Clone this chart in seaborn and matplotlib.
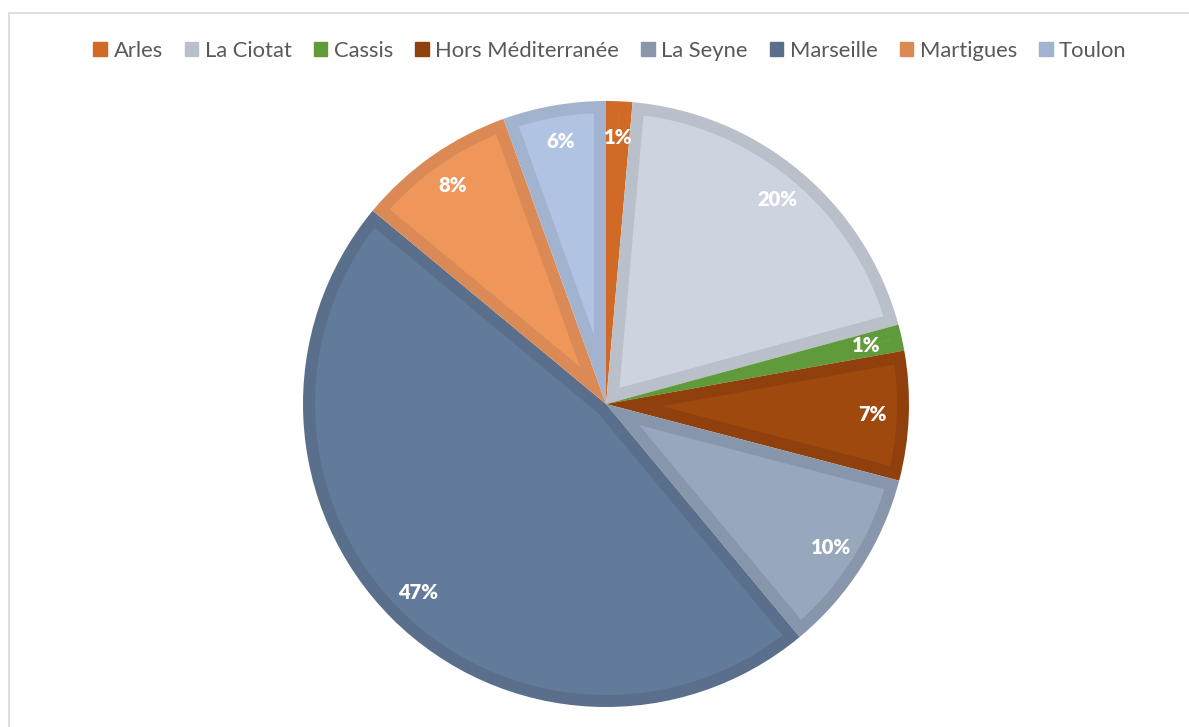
import matplotlib
matplotlib.use("Agg")
import numpy as np
import matplotlib.pyplot as plt
import matplotlib.patches as mpatches
import seaborn as sns

villes = ["Arles", "La Ciotat", "Cassis", "Hors Méditerranée", "La Seyne",
          "Marseille", "Martigues", "Toulon"]
parts = [1.4, 19.4, 1.4, 6.9, 9.9, 47.1, 8.5, 5.5]
etiquettes = ["1%", "20%", "1%", "7%", "10%", "47%", "8%", "6%"]

couleurs = ["#D8712C", "#CDD4DF", "#6AA442", "#A0490E", "#97A7BC",
            "#637B9A", "#EF975B", "#B1C3E3"]
bordures = ["#D06A26", "#B9C0C9", "#5F9A3B", "#8F400C", "#8796AB",
            "#5A6F8B", "#DC8A55", "#A2B3D0"]

sns.set_theme(style="white")
plt.rcParams["font.family"] = ["Lato", "DejaVu Sans"]

fig = plt.figure(figsize=(11.89, 7.27), dpi=100)
ax = fig.add_axes([303 / 1189, 20 / 727, 606 / 1189, 606 / 727])

# camembert de base dans la couleur de bordure
wedges, textes, pcts = ax.pie(parts, colors=bordures, startangle=90, counterclock=False,
                              autopct=lambda p: "", pctdistance=0.88, radius=1,
                              wedgeprops=dict(linewidth=0))

# remplissage intérieur, décalé vers l'intérieur (effet bordure Excel)
ep = 12 / 303
for w, c in zip(wedges, couleurs):
    t1, t2 = w.theta1, w.theta2
    a = np.radians(t2 - t1)
    r_int = 1 - ep
    r0 = ep / np.sin(a / 2)
    dlt = np.degrees(np.arcsin(ep / r_int))
    if r0 >= r_int or (t2 - t1) <= 2 * dlt:
        continue
    phi = np.radians((t1 + t2) / 2)
    arc = np.radians(np.linspace(t1 + dlt, t2 - dlt, 100))
    xs = np.concatenate([[r0 * np.cos(phi)], r_int * np.cos(arc)])
    ys = np.concatenate([[r0 * np.sin(phi)], r_int * np.sin(arc)])
    ax.add_patch(mpatches.Polygon(np.column_stack([xs, ys]), closed=True,
                                  facecolor=c, edgecolor="none", zorder=1.5))

for t, lab in zip(pcts, etiquettes):
    t.set_text(lab)
    t.set_color("white")
    t.set_fontweight("heavy")
    t.set_fontsize(14.5)
    t.set_zorder(3)

ax.set_xlim(-1, 1)
ax.set_ylim(-1, 1)
ax.set_aspect("equal")
ax.axis("off")

poignees = [mpatches.Patch(facecolor=b, edgecolor=b) for b in bordures]
fig.legend(poignees, villes, loc="center", bbox_to_anchor=(610 / 1189, 1 - 51 / 727),
           ncol=8, frameon=False, fontsize=15.8, handlelength=0.62, handleheight=0.62,
           handletextpad=0.3, columnspacing=1.0, labelcolor="#595959")

cadre = mpatches.Rectangle((8.5 / 1189, -0.1), 1.2, 1.1 - 13.5 / 727,
                           transform=fig.transFigure, fill=False,
                           edgecolor="#D9D9D9", linewidth=1.2, clip_on=False)
fig.patches.append(cadre)

fig.savefig("out.png", dpi=100, facecolor="white")
